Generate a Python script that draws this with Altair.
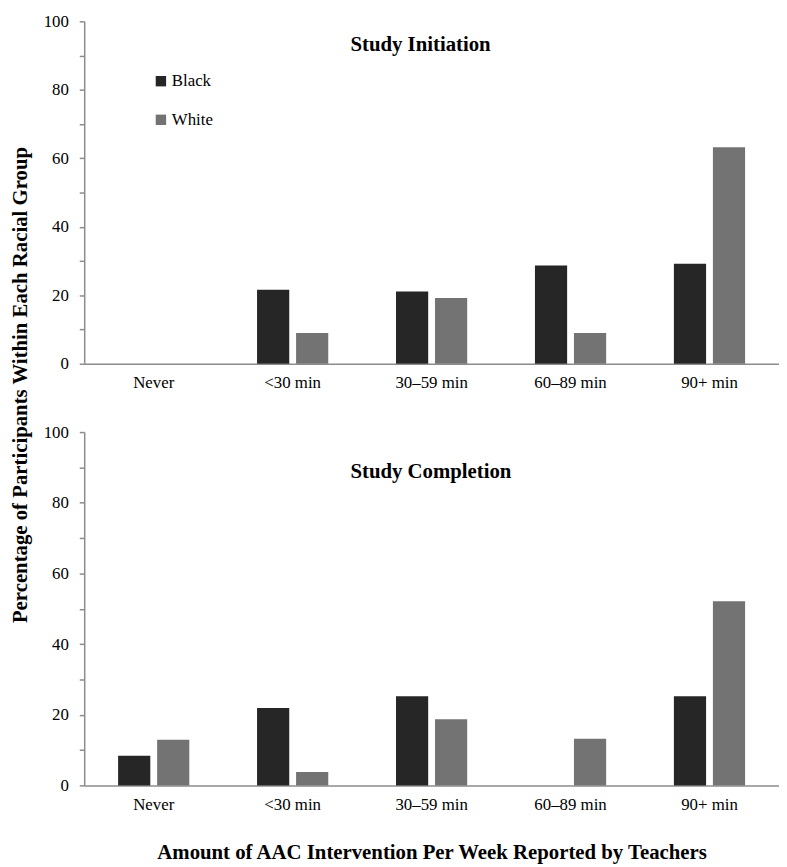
import altair as alt
import pandas as pd

categories = ["Never", "<30 min", "30\u201359 min", "60\u201389 min", "90+ min"]
groups = ["Black", "White"]

init_black = [0, 21.6, 21.1, 28.7, 29.2]
init_white = [0, 9.0, 19.2, 9.0, 63.2]
comp_black = [8.4, 21.9, 25.2, 0, 25.2]
comp_white = [12.9, 3.8, 18.7, 13.2, 52.1]

panel_titles = ["Study Initiation", "Study Completion"]
y_title = "Percentage of Participants Within Each Racial Group"
x_title = "Amount of AAC Intervention Per Week Reported by Teachers"

colors = ["#262626", "#737373"]
AX = "#8c8c8c"
FONT = "Liberation Serif"
W = 702
H_TOP, H_BOT = 346, 357


def frame(black, white):
    rows = []
    for c, b, w in zip(categories, black, white):
        rows.append({"cat": c, "grp": "Black", "val": b})
        rows.append({"cat": c, "grp": "White", "val": w})
    return pd.DataFrame(rows)


def panel(df, title, show_legend, show_ytitle, show_xtitle, title_y, height):
    yaxis_kw = dict(
        values=list(range(0, 101, 10)),
        labelExpr="datum.value % 20 == 0 ? datum.label : ''",
        tickSize=5, tickColor=AX, tickWidth=1.5,
        domainColor=AX, domainWidth=1.5,
        labelPadding=11, labelFont=FONT, labelFontSize=17, labelColor="black",
        grid=False,
    )
    if show_ytitle:
        yaxis_kw.update(
            title=y_title, titleX=-64, titleY=367, titleAngle=-90,
            titleAlign="center", titleBaseline="middle",
            titleFont=FONT, titleFontSize=21, titleFontWeight="bold", titleColor="black",
        )
    else:
        yaxis_kw.update(title=None)

    xaxis_kw = dict(
        labelAngle=0, ticks=False, domainColor=AX, domainWidth=1.5,
        labelPadding=11, labelFont=FONT, labelFontSize=17, labelColor="black",
        grid=False,
    )
    if show_xtitle:
        xaxis_kw.update(title=x_title, titleFont=FONT, titleFontSize=21,
                        titleFontWeight="bold", titleColor="black", titlePadding=30)
    else:
        xaxis_kw.update(title=None)

    if show_legend:
        legend = alt.Legend(
            orient="none", legendX=69, legendY=52, title=None,
            symbolType="square", symbolSize=110, symbolStrokeWidth=0,
            labelFont=FONT, labelFontSize=17, labelColor="black",
            rowPadding=21, labelOffset=2.5, padding=0,
        )
    else:
        legend = None

    bars = alt.Chart(df).mark_bar().encode(
        x=alt.X("cat:N", sort=categories,
                scale=alt.Scale(paddingInner=0.4875, paddingOuter=0.244),
                axis=alt.Axis(**xaxis_kw)),
        xOffset=alt.XOffset("grp:N", sort=groups,
                            scale=alt.Scale(paddingInner=0.175, paddingOuter=0)),
        y=alt.Y("val:Q", scale=alt.Scale(domain=[0, 100], nice=False),
                axis=alt.Axis(**yaxis_kw)),
        color=alt.Color("grp:N", sort=groups,
                        scale=alt.Scale(domain=groups, range=colors),
                        legend=legend),
    )

    ttl = alt.Chart(pd.DataFrame({"t": [title]})).mark_text(
        align="left", baseline="alphabetic", font=FONT, fontSize=21,
        fontWeight="bold", color="black",
    ).encode(x=alt.value(269), y=alt.value(title_y), text="t:N")

    return alt.layer(bars, ttl).properties(width=W, height=height)


top = panel(frame(init_black, init_white), panel_titles[0], True, True, False, 30, H_TOP)
bottom = panel(frame(comp_black, comp_white), panel_titles[1], False, False, True, 46, H_BOT)

chart = alt.vconcat(top, bottom, spacing=69, bounds="flush").resolve_legend(
    color="independent"
).properties(
    padding={"left": 2, "top": 0, "right": 0, "bottom": 0},
    background="white",
).configure_view(stroke=None)

chart.save("out.html", embed_options={"renderer": "svg", "actions": False})
